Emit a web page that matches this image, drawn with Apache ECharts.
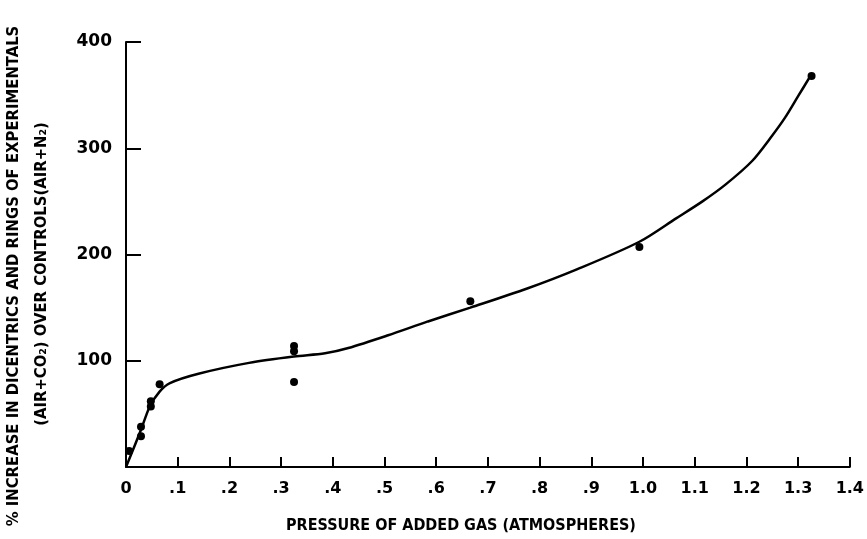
<!DOCTYPE html>
<html>
<head>
<meta charset="utf-8">
<script src="https://cdn.jsdelivr.net/npm/echarts@6/dist/echarts.min.js"></script>
<style>
  html, body { margin: 0; padding: 0; background: #fff; }
  #chart { width: 867px; height: 539px; }
</style>
</head>
<body>
<div id="chart"></div>
<script>
// measured points (pressure in atm, % increase)
var pointX = [0.006, 0.029, 0.029, 0.048, 0.048, 0.065, 0.325, 0.325, 0.325, 0.666, 0.993, 1.326];
var pointY = [15, 38, 29, 62, 57, 78, 114, 109, 80, 156, 207, 368];

// hand-drawn fitted curve
var curveX = [0, 0.029, 0.046, 0.065, 0.085, 0.142, 0.238, 0.325, 0.385, 0.43, 0.507, 0.584, 0.666, 0.776, 0.872, 0.993, 1.064, 1.115, 1.16, 1.211, 1.25, 1.275, 1.30, 1.325];
var curveY = [0, 35, 57, 71, 79, 88, 98, 104, 107, 112, 124, 137, 150, 168, 186, 212, 234, 250, 266, 288, 312, 329, 349, 369];

var xTickLabels = ['0', '.1', '.2', '.3', '.4', '.5', '.6', '.7', '.8', '.9', '1.0', '1.1', '1.2', '1.3', '1.4'];
var yTickLabels = ['', '100', '200', '300', '400'];

var yTitle1 = '% INCREASE IN DICENTRICS AND RINGS OF EXPERIMENTALS';
var yTitle2 = '(AIR+CO\u2082) OVER CONTROLS(AIR+N\u2082)';
var xTitle = 'PRESSURE OF ADDED GAS (ATMOSPHERES)';

var tickFont = '"DejaVu Sans", Arial, sans-serif';
var titleFont = '"DejaVu Sans Condensed", "DejaVu Sans", Arial, sans-serif';

var chart = echarts.init(document.getElementById('chart'));

var option = {
  backgroundColor: '#fff',
  animation: false,
  grid: { left: 126, right: 12, top: 42, bottom: 72 },
  xAxis: {
    type: 'value',
    min: 0,
    max: 1.4,
    interval: 0.1,
    splitLine: { show: false },
    axisLine: { lineStyle: { color: '#000', width: 2 } },
    axisTick: { inside: true, length: 10, lineStyle: { color: '#000', width: 2 } },
    axisLabel: {
      color: '#000', fontFamily: tickFont, fontWeight: 'bold', fontSize: 16, margin: 14,
      formatter: function (v) { return xTickLabels[Math.round(v * 10)]; }
    }
  },
  yAxis: {
    type: 'value',
    min: 0,
    max: 400,
    interval: 100,
    splitLine: { show: false },
    axisLine: { lineStyle: { color: '#000', width: 2 } },
    axisTick: { inside: true, length: 15, lineStyle: { color: '#000', width: 2 } },
    axisLabel: {
      color: '#000', fontFamily: tickFont, fontWeight: 'bold', fontSize: 17, margin: 14,
      formatter: function (v) { return yTickLabels[Math.round(v / 100)]; }
    }
  },
  graphic: [
    {
      type: 'text', x: 14, y: 276, rotation: Math.PI / 2,
      style: { text: yTitle1, fill: '#000', font: 'bold 16.5px ' + titleFont, align: 'center', verticalAlign: 'middle' }
    },
    {
      type: 'text', x: 42, y: 274, rotation: Math.PI / 2,
      style: { text: yTitle2, fill: '#000', font: 'bold 16.5px ' + titleFont, align: 'center', verticalAlign: 'middle' }
    },
    {
      type: 'text', x: 461, y: 526,
      style: { text: xTitle, fill: '#000', font: 'bold 16px ' + titleFont, align: 'center', verticalAlign: 'middle' }
    }
  ],
  series: [
    {
      type: 'line',
      smooth: 0.3,
      showSymbol: false,
      lineStyle: { color: '#000', width: 2.5 },
      data: curveX.map(function (x, i) { return [x, curveY[i]]; })
    },
    {
      type: 'scatter',
      symbolSize: 8,
      itemStyle: { color: '#000', opacity: 1 },
      data: pointX.map(function (x, i) { return [x, pointY[i]]; })
    }
  ]
};

chart.setOption(option);
</script>
</body>
</html>
